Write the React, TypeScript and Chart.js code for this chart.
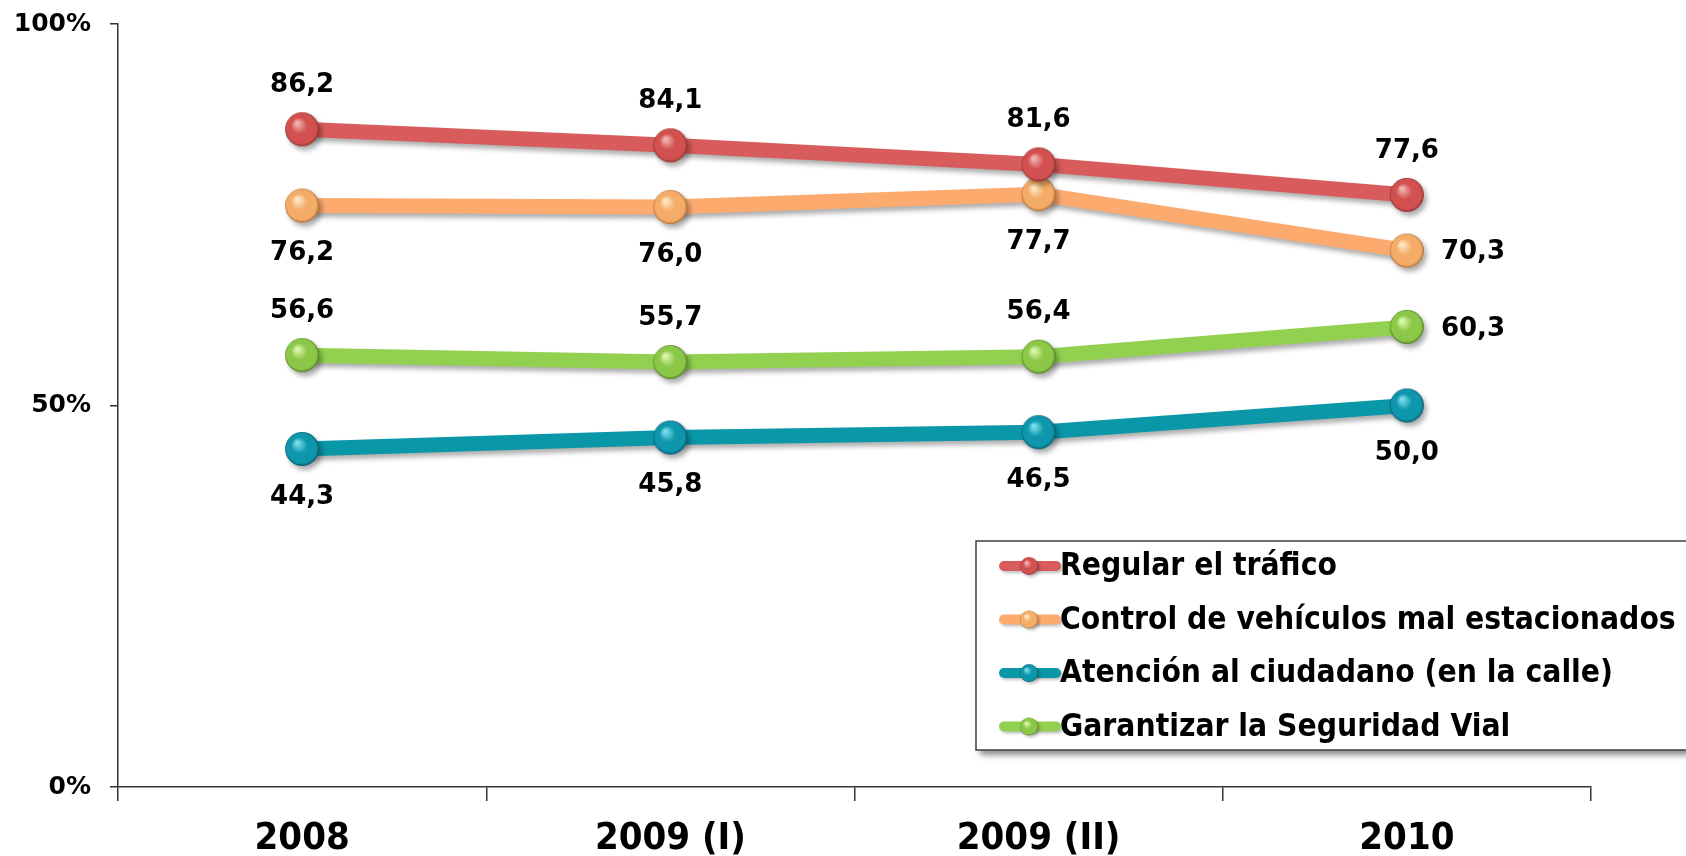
import React, { useEffect, useRef } from 'react';
import { Chart, registerables } from 'chart.js';

Chart.register(...registerables);

const categories = ['2008', '2009 (I)', '2009 (II)', '2010'];
const seriesNames = [
  'Regular el tráfico',
  'Control de vehículos mal estacionados',
  'Atención al ciudadano (en la calle)',
  'Garantizar la Seguridad Vial',
];
const trafico = [86.2, 84.1, 81.6, 77.6];
const control = [76.2, 76.0, 77.7, 70.3];
const atencion = [44.3, 45.8, 46.5, 50.0];
const seguridad = [56.6, 55.7, 56.4, 60.3];
const yTickValues = [0, 50, 100];

// where each value label sits relative to its point
const labelSides = [
  ['above', 'above', 'above', 'above'],
  ['below', 'below', 'below', 'right'],
  ['below', 'below', 'below', 'below'],
  ['above', 'above', 'above', 'right'],
];

const palette = [
  { line: '#D95C5C', hi: '#F6B8B8', mid: '#D35050', dark: '#8E3030' },
  { line: '#FDAA6F', hi: '#FFEBC8', mid: '#F4AC68', dark: '#B06C32' },
  { line: '#0A98A8', hi: '#7FE2F0', mid: '#0E96AC', dark: '#05566A' },
  { line: '#92D050', hi: '#E2FAB0', mid: '#8CC848', dark: '#507E22' },
];

const BOLD = "'DejaVu Sans', Verdana, sans-serif";
const COND = "'DejaVu Sans Condensed', 'Liberation Sans Narrow', 'DejaVu Sans', sans-serif";

function paintBall(ctx: CanvasRenderingContext2D, cx: number, cy: number, r: number, c: any) {
  const g = ctx.createRadialGradient(cx - r * 0.3, cy - r * 0.38, r * 0.05, cx, cy, r);
  g.addColorStop(0, c.hi);
  g.addColorStop(0.45, c.mid);
  g.addColorStop(0.88, c.mid);
  g.addColorStop(1, c.dark);
  ctx.beginPath();
  ctx.arc(cx, cy, r, 0, Math.PI * 2);
  ctx.fillStyle = g;
  ctx.fill();
}

function makeBall(c: any, r: number) {
  const cv = document.createElement('canvas');
  cv.width = r * 2 + 2;
  cv.height = r * 2 + 2;
  const ctx = cv.getContext('2d')!;
  paintBall(ctx, r + 1, r + 1, r, c);
  return cv;
}

const shadowPlugin = {
  id: 'lineShadow',
  beforeDatasetDraw(chart: any) {
    const ctx = chart.ctx;
    ctx.save();
    ctx.shadowColor = 'rgba(0,0,0,0.32)';
    ctx.shadowBlur = 5;
    ctx.shadowOffsetX = 3;
    ctx.shadowOffsetY = 4;
  },
  afterDatasetDraw(chart: any) {
    chart.ctx.restore();
  },
};

const valueLabelPlugin = {
  id: 'valueLabels',
  afterDatasetsDraw(chart: any) {
    const ctx = chart.ctx;
    ctx.save();
    ctx.font = `bold 26px ${BOLD}`;
    ctx.fillStyle = '#000';
    chart.data.datasets.forEach((ds: any, di: number) => {
      const meta = chart.getDatasetMeta(di);
      meta.data.forEach((pt: any, i: number) => {
        const txt = Number(ds.data[i]).toFixed(1).replace('.', ',');
        const side = labelSides[di][i];
        ctx.textBaseline = 'middle';
        if (side === 'right') {
          ctx.textAlign = 'left';
          ctx.fillText(txt, pt.x + 34, pt.y + 2);
        } else if (side === 'above') {
          ctx.textAlign = 'center';
          ctx.fillText(txt, pt.x, pt.y - 44);
        } else {
          ctx.textAlign = 'center';
          ctx.fillText(txt, pt.x, pt.y + 48);
        }
      });
    });
    ctx.restore();
  },
};

const legendPlugin = {
  id: 'boxLegend',
  afterDraw(chart: any) {
    const ctx = chart.ctx;
    const left = 976;
    const top = 541;
    const w = 760;
    const h = 209;
    ctx.save();
    ctx.shadowColor = 'rgba(0,0,0,0.45)';
    ctx.shadowBlur = 6;
    ctx.shadowOffsetX = 4;
    ctx.shadowOffsetY = 5;
    ctx.fillStyle = '#fff';
    ctx.fillRect(left, top, w, h);
    ctx.restore();
    ctx.save();
    ctx.strokeStyle = '#404040';
    ctx.lineWidth = 1.5;
    ctx.strokeRect(left, top, w, h);
    chart.data.datasets.forEach((ds: any, i: number) => {
      const cy = top + 25 + i * 53.5;
      const c = palette[i];
      ctx.save();
      ctx.shadowColor = 'rgba(0,0,0,0.25)';
      ctx.shadowBlur = 3;
      ctx.shadowOffsetX = 2;
      ctx.shadowOffsetY = 2;
      ctx.strokeStyle = c.line;
      ctx.lineWidth = 10;
      ctx.lineCap = 'round';
      ctx.beginPath();
      ctx.moveTo(1004, cy);
      ctx.lineTo(1056, cy);
      ctx.stroke();
      paintBall(ctx, 1029, cy, 9, c);
      ctx.restore();
      ctx.fillStyle = '#000';
      ctx.font = `bold 31.5px ${COND}`;
      ctx.textAlign = 'left';
      ctx.textBaseline = 'middle';
      ctx.fillText(ds.label, 1060, cy + 1);
    });
    ctx.restore();
  },
};

export default function App() {
  const ref = useRef<HTMLCanvasElement | null>(null);
  useEffect(() => {
    if (!ref.current) return;
    const series = [trafico, control, atencion, seguridad];
    const chart = new Chart(ref.current, {
      type: 'line',
      data: {
        labels: categories,
        datasets: series.map((d, i) => ({
          label: seriesNames[i],
          data: d,
          borderColor: palette[i].line,
          backgroundColor: palette[i].line,
          borderWidth: 15,
          tension: 0,
          fill: false,
          clip: false,
          pointStyle: makeBall(palette[i], 17) as any,
          pointRadius: 17,
          pointHoverRadius: 17,
        })),
      },
      options: {
        animation: false,
        responsive: false,
        maintainAspectRatio: false,
        events: [],
        layout: { autoPadding: false, padding: { top: 24, right: 95, left: 0, bottom: 0 } },
        plugins: {
          legend: { display: false },
          tooltip: { enabled: false },
        },
        scales: {
          x: {
            type: 'category',
            offset: true,
            afterFit(scale: any) {
              scale.height = 69;
              scale.paddingLeft = 0;
              scale.paddingRight = 0;
            },
            grid: {
              display: true,
              drawOnChartArea: false,
              drawTicks: true,
              tickLength: 14,
              offset: true,
              color: '#333',
              lineWidth: 1.5,
            },
            border: { display: true, color: '#333', width: 1.5 },
            ticks: {
              color: '#000',
              padding: 15,
              font: { family: COND, size: 38, weight: 'bold' },
            },
          },
          y: {
            min: 0,
            max: 100,
            afterFit(scale: any) {
              scale.width = 118;
              scale.paddingTop = 0;
              scale.paddingBottom = 0;
            },
            afterBuildTicks(scale: any) {
              scale.ticks = yTickValues.map((v) => ({ value: v }));
            },
            grid: {
              display: true,
              drawOnChartArea: false,
              drawTicks: true,
              tickLength: 8,
              color: '#333',
              lineWidth: 1.5,
            },
            border: { display: true, color: '#333', width: 1.5 },
            ticks: {
              color: '#000',
              padding: 19,
              font: { family: BOLD, size: 25, weight: 'bold' },
              callback: (v: any) => `${v}%`,
            },
          },
        },
      },
      plugins: [shadowPlugin, valueLabelPlugin, legendPlugin],
    });
    return () => chart.destroy();
  }, []);
  return (
    <div style={{ position: 'fixed', left: 0, top: 0, width: 1686, height: 856, background: '#fff' }}>
      <canvas ref={ref} width={1686} height={856} style={{ display: 'block', width: 1686, height: 856 }} />
    </div>
  );
}
